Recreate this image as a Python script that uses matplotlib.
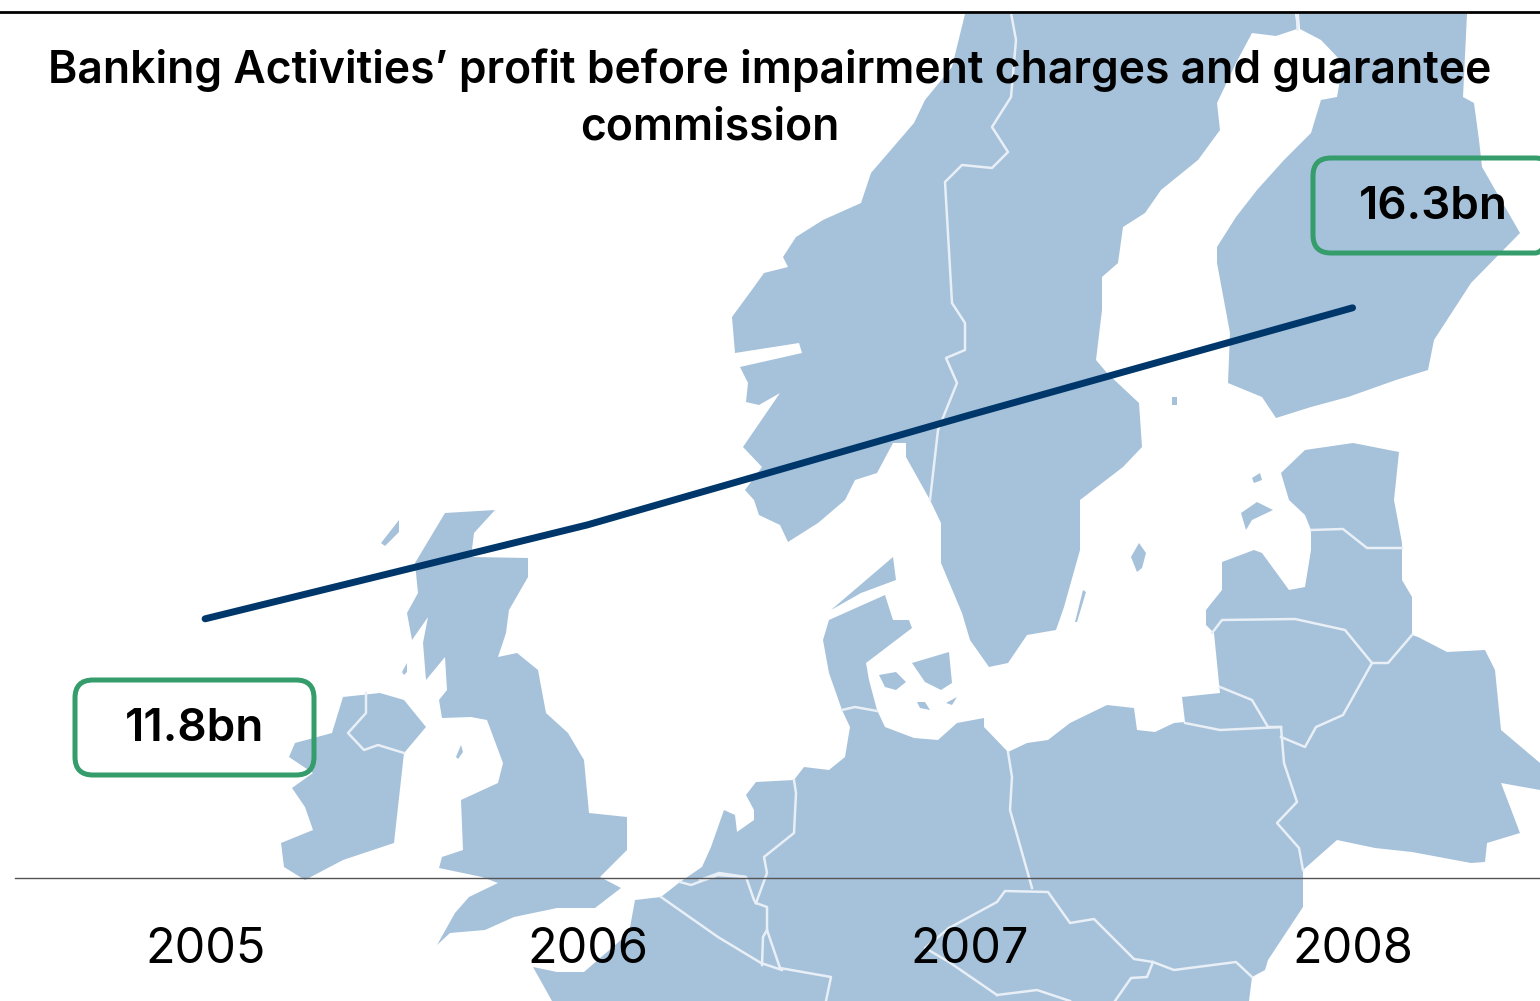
import matplotlib
matplotlib.use("Agg")
import matplotlib.pyplot as plt
from matplotlib.patches import FancyBboxPatch, Polygon

years = ["2005", "2006", "2007", "2008"]
profit = [11.8, 13.16, 14.75, 16.3]
title_lines = ["Banking Activities\u2019 profit before impairment charges and guarantee", "commission"]

MAP_COLOR = "#a6c1da"
LINE_COLOR = "#00376b"
BOX_COLOR = "#359c6b"
FONT = "Inter"

# background map, traced in picture pixels
scandinavia = [(965,14),(1295,14),(1297,29),(1276,36),(1252,33),(1236,63),(1217,103),(1220,130),(1198,160),
    (1161,190),(1145,213),(1123,227),(1118,263),(1102,277),(1102,310),(1096,360),(1107,373),(1139,403),(1142,447),
    (1123,467),(1080,500),(1080,550),(1064,607),(1056,630),(1027,635),(1008,663),(989,667),(970,640),(962,613),
    (941,563),(941,523),(930,500),(906,457),(906,443),(893,443),(877,473),(855,480),(845,500),(818,523),(788,542),
    (780,525),(759,515),(754,500),(745,490),(762,467),(743,447),(780,393),(759,405),(746,402),(748,383),(740,367),
    (802,353),(799,343),(735,353),(732,317),(754,287),(764,273),(788,267),(783,257),(796,237),(823,220),(861,203),
    (871,173),(914,123),(925,100),(952,67)]
finland = [(1299,14),(1300,29),(1321,40),(1343,63),(1337,97),(1321,100),(1311,133),(1284,160),(1257,190),(1236,217),
    (1217,247),(1217,263),(1230,333),(1228,383),(1262,397),(1276,418),(1311,407),(1348,397),(1396,380),(1428,370),
    (1434,340),(1471,283),(1520,233),(1482,167),(1479,140),(1474,103),(1463,97),(1467,14)]
continent = [(1281,473),(1305,450),(1353,443),(1399,452),(1394,500),(1402,543),(1402,580),(1412,597),(1412,635),
    (1418,637),(1447,652),(1485,650),(1495,670),(1501,730),(1540,763),(1540,790),(1501,783),(1520,833),(1487,843),
    (1485,862),(1471,863),(1412,852),(1375,848),(1337,840),(1303,870),(1303,907),(1268,960),(1265,970),(1252,977),
    (1249,1001),(552,1001),(533,967),(557,972),(584,972),(629,933),(635,900),(661,897),(680,882),(702,867),(711,847),
    (724,810),(735,815),(737,832),(754,820),(754,810),(746,795),(756,782),(794,780),(804,767),(829,770),(845,757),
    (850,727),(842,710),(829,673),(823,640),(829,620),(885,595),(893,620),(909,620),(912,628),(866,663),(869,680),
    (877,710),(885,727),(914,738),(938,740),(957,723),(984,718),(984,727),(1008,752),(1027,743),(1048,740),(1070,723),
    (1107,705),(1134,708),(1137,730),(1155,732),(1174,723),(1185,722),(1182,697),(1220,693),(1214,633),(1206,625),
    (1206,610),(1222,590),(1222,562),(1254,550),(1262,553),(1289,590),(1305,587),(1311,550),(1311,530),(1305,515),(1289,500)]
britain = [(445,513),(495,510),(474,533),(471,557),(528,558),(528,577),(509,610),(506,633),(498,657),(517,653),(538,670),
    (546,713),(568,733),(584,760),(589,813),(627,817),(627,850),(600,877),(621,888),(595,908),(557,908),(514,917),
    (485,930),(450,933),(437,945),(455,913),(469,897),(498,883),(482,877),(439,868),(442,857),(463,850),(461,800),
    (498,783),(503,763),(487,720),(471,717),(442,718),(439,700),(447,690),(445,657),(426,680),(423,643),(428,617),
    (412,640),(407,613),(418,593),(415,563)]
ireland = [(343,697),(380,693),(404,700),(426,727),(404,753),(394,843),(343,860),(305,880),(284,867),(281,843),(313,830),
    (305,807),(292,788),(313,773),(289,757),(295,743),(332,733)]
islands = [
    [(1131,557),(1139,543),(1146,553),(1142,568),(1137,572)],
    [(1083,590),(1086,592),(1077,622),(1075,622)],
    [(1172,397),(1177,397),(1177,405),(1172,405)],
    [(831,610),(893,557),(896,580),(861,593)],
    [(912,663),(949,652),(952,683),(941,690),(925,682)],
    [(879,675),(896,672),(906,682),(896,690),(885,687)],
    [(917,702),(925,702),(930,710),(920,708)],
    [(946,703),(957,697),(952,705)],
    [(1241,513),(1257,502),(1273,510),(1252,520),(1246,530)],
    [(1252,478),(1260,473),(1262,480),(1254,483)],
    [(381,543),(399,520),(399,532),(385,546)],
    [(402,672),(407,663),(407,672),(404,675)],
    [(456,757),(461,745),(463,752),(458,759)],
]
borders = [
    [(1011,13),(1016,40),(1011,97),(992,127),(1008,152),(992,168),(962,165),(945,182),(952,303),(965,323),(965,350),(946,358),(957,383),(938,430),(930,500)],
    [(1297,14),(1297,29)],
    [(366,693),(366,713),(348,733),(364,750),(378,745),(404,753)],
    [(842,710),(855,707),(877,711)],
    [(1008,752),(1012,777),(1010,810),(1032,888)],
    [(949,928),(997,902),(1005,891),(1048,892),(1070,923),(1094,919),(1134,959),(1153,962),(1174,970),(1236,962),(1252,977)],
    [(949,928),(925,948),(949,962),(997,995)],
    [(997,995),(1037,990),(1070,1001)],
    [(1153,962),(1147,977),(1131,978),(1115,1001)],
    [(1268,727),(1281,727),(1284,763),(1297,802),(1277,823),(1299,848),(1303,870)],
    [(1185,723),(1220,730),(1281,727)],
    [(1220,687),(1252,700),(1268,727)],
    [(1212,633),(1222,620),(1295,619),(1345,630),(1372,663),(1343,715),(1316,727),(1305,747),(1281,737)],
    [(1372,663),(1388,663),(1412,635)],
    [(1311,530),(1343,529),(1367,548),(1402,548)],
    [(794,780),(796,793),(794,833),(764,857),(767,873),(756,903)],
    [(700,880),(719,873),(746,877),(754,900),(756,903)],
    [(756,903),(767,907),(767,930),(780,968),(831,977),(826,1001)],
    [(762,965),(763,937),(767,930)],
    [(661,897),(718,937),(761,963),(782,970)],
    [(680,882),(691,885),(718,875),(745,877)],
]

fig = plt.figure(figsize=(15.4, 10.01), dpi=100)

bg = fig.add_axes([0, 0, 1, 1], zorder=0)
bg.set_xlim(0, 1540)
bg.set_ylim(1001, 0)
bg.axis("off")

for shape in [scandinavia, finland, continent, britain, ireland] + islands:
    bg.add_patch(Polygon(shape, closed=True, fc=MAP_COLOR, ec="none"))
for border in borders:
    bg.plot([p[0] for p in border], [p[1] for p in border], color="#e8eff6", lw=1.8, solid_joinstyle="round")

bg.plot([0, 1540], [12, 12], color="black", lw=2)

# chart on top of the map
ax = fig.add_axes([15/1540, 123/1001, 1525/1540, 866/1001], zorder=1)
ax.patch.set_alpha(0)
ax.plot(range(len(years)), profit, color=LINE_COLOR, lw=5, solid_capstyle="round")
ax.set_xlim(-0.497, 3.49)
ax.set_ylim(8.05, 20.58)
ax.set_xticks(range(len(years)))
ax.set_xticklabels(years, fontsize=35, family=FONT, color="black")
ax.tick_params(axis="x", length=0, pad=35)
ax.set_yticks([])
for side in ["top", "left", "right"]:
    ax.spines[side].set_visible(False)
ax.spines["bottom"].set_color("#555555")
ax.spines["bottom"].set_linewidth(1)

# value boxes
for x, y, w, value, tx in [(75, 680, 239, profit[0], 195), (1313, 158, 240, profit[-1], 1433)]:
    bg.add_patch(FancyBboxPatch((x + 18, y + 18), w - 36, 95 - 36, boxstyle="round,pad=18,rounding_size=18",
                                fc="none", ec=BOX_COLOR, lw=3.6, zorder=5, clip_on=True))
    bg.text(tx, y + 49, f"{value}bn", ha="center", va="center", fontsize=33, family=FONT,
            fontweight="semibold", color="black", zorder=6)

bg.text(770, 70, title_lines[0], ha="center", va="center", fontsize=32, family=FONT, fontweight="semibold", color="black", zorder=6)
bg.text(710, 128, title_lines[1], ha="center", va="center", fontsize=32, family=FONT, fontweight="semibold", color="black", zorder=6)

fig.savefig("out.png", dpi=100)
